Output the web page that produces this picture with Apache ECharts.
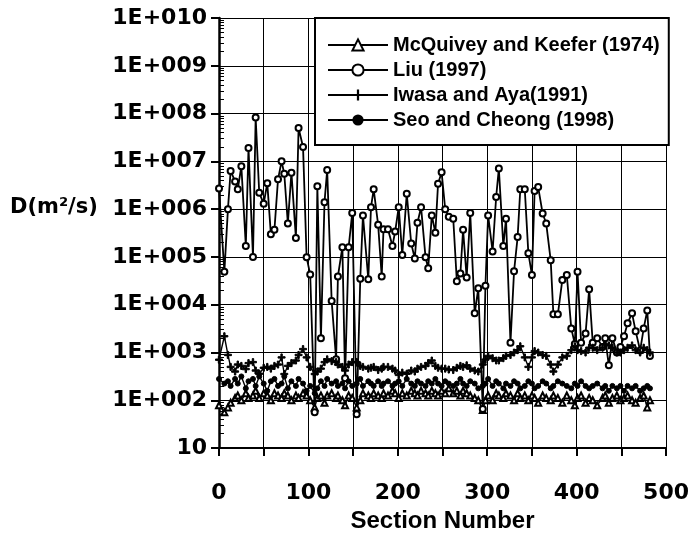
<!DOCTYPE html>
<html>
<head>
<meta charset="utf-8">
<script src="https://cdn.jsdelivr.net/npm/echarts@6/dist/echarts.min.js"></script>
<style>html,body{margin:0;padding:0;background:#fff;}#c{width:692px;height:538px;}</style>
</head>
<body>
<div id="c"></div>
<script>
const sections = [0,6,10,13,18,21,25,30,33,38,41,45,50,54,58,62,66,70,73,77,81,86,89,94,98,102,107,110,114,118,121,126,131,133,138,141,145,149,154,158,161,167,170,173,178,182,184,189,194,197,201,205,210,215,219,222,226,231,234,238,242,245,249,253,257,262,266,270,273,277,281,286,290,295,298,301,306,310,313,318,321,326,330,334,337,342,346,350,353,357,362,366,371,374,379,384,389,394,398,401,405,410,414,418,423,429,432,436,440,445,449,453,457,462,466,471,475,479,482];

const mcquivey = [79,56,71,89,112,126,100,141,112,126,158,112,141,126,100,141,126,112,141,126,100,126,112,141,126,100,71,112,126,89,126,141,112,126,100,79,126,112,71,100,141,126,112,141,126,112,141,126,158,141,112,141,126,158,141,126,158,141,126,158,141,126,158,141,178,141,158,126,158,141,126,112,100,63,100,126,100,141,126,112,141,126,100,141,112,126,100,126,112,89,126,112,100,126,112,89,126,100,79,112,126,89,112,100,79,112,126,89,112,126,100,112,126,100,89,112,126,71,100];

const liu = [2.7e6,4.9e4,1.0e6,6.3e6,3.8e6,2.6e6,7.9e6,1.7e5,1.9e7,1.0e5,8.3e7,2.2e6,1.3e6,3.5e6,3.0e5,3.7e5,4.2e6,1.0e7,5.5e6,5.0e5,5.8e6,2.5e5,5.0e7,2.0e7,9.8e4,4.3e4,56,3.0e6,2000,1.4e6,6.6e6,1.2e4,720,3.9e4,1.6e5,290,1.6e5,8.3e5,51,3.5e4,7.4e5,3.4e4,1.1e6,2.6e6,4.7e5,3.9e4,3.8e5,3.8e5,1.7e5,3.4e5,1.1e6,1.1e5,2.1e6,1.9e5,9.3e4,5.2e5,1.1e6,9.8e4,5.8e4,7.4e5,3.2e5,3.4e6,5.9e6,1.0e6,6.9e5,6.3e5,3.1e4,4.5e4,3.7e5,3.7e4,8.3e5,6600,2.2e4,66,2.5e4,7.4e5,1.3e5,1.8e6,7.1e6,1.7e5,6.3e5,1600,5.0e4,2.6e5,2.6e6,2.6e6,1.2e5,4.2e4,2.4e6,2.9e6,8.1e5,5.0e5,8.5e4,6300,6300,3.3e4,4.2e4,3200,1500,4.9e4,1600,2500,2.1e4,1600,2000,1300,2000,540,2000,1000,1300,2200,4100,6600,2800,1100,3200,7600,850];

const iwasa = [708,2190,890,500,400,560,525,450,600,630,420,360,480,500,460,525,560,790,355,525,600,680,890,1180,790,500,355,400,460,630,720,660,630,560,500,420,560,630,630,525,500,460,480,500,430,460,500,500,460,420,340,380,360,420,400,460,500,525,600,680,525,480,460,460,440,430,480,525,500,540,460,420,400,560,710,850,760,680,680,760,850,890,1000,1120,1350,790,500,790,1070,1000,890,850,560,400,560,790,850,1120,1350,1120,1070,1000,1260,1260,1120,1260,1480,1410,1260,1000,1000,1120,1260,1410,1120,1000,1260,1120,1000];

const seo = [280,224,250,200,280,224,316,178,250,280,200,316,224,158,250,280,200,224,316,178,250,200,280,224,158,200,141,178,250,200,280,224,250,200,224,178,250,200,224,280,200,250,224,200,250,200,224,250,200,224,250,200,280,224,200,250,224,200,250,224,280,224,200,250,224,200,224,280,224,200,250,224,178,200,224,280,200,250,224,178,224,200,250,224,178,200,250,224,178,200,250,224,178,200,250,224,200,178,224,200,250,200,178,200,224,178,200,158,200,178,200,158,200,178,200,158,178,200,178];

const seriesNames = ['McQuivey and Keefer (1974)', 'Liu (1997)', 'Iwasa and Aya(1991)', 'Seo and Cheong (1998)'];
const xTicks = [0,100,200,300,400,500];

function pairs(arr){ return sections.map((x,i)=>[x, arr[i]]); }
function yFmt(v){
  const e = Math.round(Math.log10(v));
  if (e === 1) return '10';
  return '1E+' + String(e).padStart(3,'0');
}
const plus = 'path://M4,0h2v4h4v2h-4v4h-2v-4h-4v-2h4z';
const font = 'Liberation Sans, Arial, sans-serif';
const tickFont = 'DejaVu Sans, sans-serif';

const chart = echarts.init(document.getElementById('c'), null, {renderer:'canvas'});
const common = {type:'line', smooth:false, animation:false, color:'#000',
  lineStyle:{color:'#000', width:1.4}, itemStyle:{color:'#000', borderColor:'#000'}};
chart.setOption({
  animation:false,
  backgroundColor:'#fff',
  grid:{left:219, right:23, top:18, bottom:76, containLabel:false},
  xAxis:{type:'value', min:0, max:500, interval:50,
    axisLine:{lineStyle:{color:'#000', width:2}},
    axisTick:{show:true, length:8, lineStyle:{color:'#000', width:2}},
    axisLabel:{color:'#000', fontWeight:'bold', fontSize:22, fontFamily:tickFont, margin:34,
      formatter:v=> xTicks.indexOf(v)>=0 ? String(v) : ''},
    splitLine:{show:true, lineStyle:{color:'#000', width:1}},
    name:'Section Number', nameLocation:'middle', nameGap:59,
    nameTextStyle:{color:'#000', fontWeight:'bold', fontSize:24, fontFamily:font}
  },
  yAxis:[{type:'log', logBase:10, min:10, max:1e10, interval:1,
    axisLine:{lineStyle:{color:'#000', width:2.5}},
    axisTick:{show:true, length:8, lineStyle:{color:'#000', width:2}},
    axisLabel:{color:'#000', fontWeight:'bold', fontSize:22, fontFamily:tickFont, margin:12, formatter:yFmt},
    splitLine:{show:true, lineStyle:{color:'#000', width:1.2}}
  },{type:'log', logBase:10, min:10, max:1e10, interval:1, position:'left',
    axisLine:{show:false}, axisLabel:{show:false}, splitLine:{show:false},
    axisTick:{show:false, inside:true},
    minorTick:{show:true, splitNumber:9, length:5, lineStyle:{color:'#000', width:1}}
  }],
  legend:{orient:'vertical', left:315, top:18, itemWidth:60, itemHeight:14, itemGap:5,
    padding:[17,9,15,12], backgroundColor:'#fff', borderColor:'#000', borderWidth:2,
    textStyle:{color:'#000', fontWeight:'bold', fontSize:20, lineHeight:20, fontFamily:font},
    data:seriesNames},
  graphic:[{type:'text', left:10, top:197, style:{text:'D(m²/s)', fill:'#000', font:'bold 21px ' + tickFont}}],
  series:[
    Object.assign({}, common, {name:seriesNames[0], data:pairs(mcquivey), symbol:'emptyTriangle', symbolSize:6,
      itemStyle:{color:'#000', borderColor:'#000', borderWidth:1}}),
    Object.assign({}, common, {name:seriesNames[1], data:pairs(liu), symbol:'emptyCircle', symbolSize:6,
      lineStyle:{color:'#000', width:1.8}, itemStyle:{color:'#000', borderColor:'#000', borderWidth:1.6}}),
    Object.assign({}, common, {name:seriesNames[2], data:pairs(iwasa), symbol:plus, symbolSize:7}),
    Object.assign({}, common, {name:seriesNames[3], data:pairs(seo), symbol:'circle', symbolSize:5})
  ]
});
</script>
</body>
</html>
